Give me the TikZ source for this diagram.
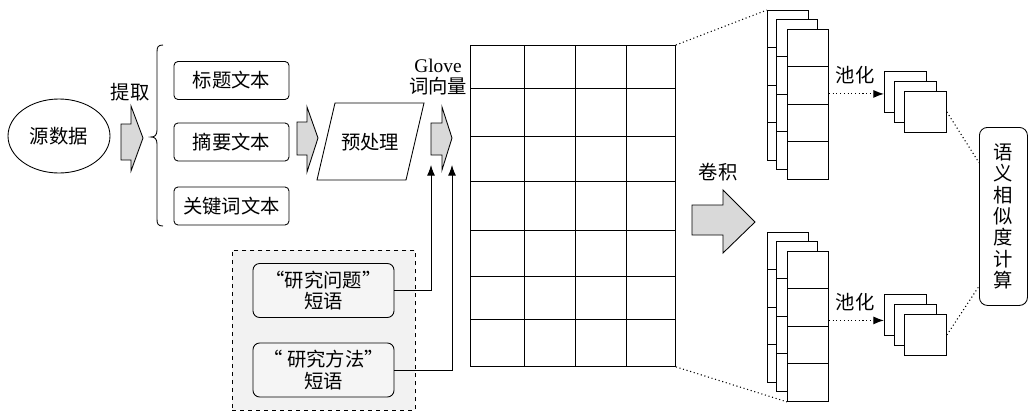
\documentclass[tikz,border=0pt]{standalone}
\usepackage{fontspec}
\setmainfont{Liberation Serif}
\newfontfamily\cjk{Noto Sans CJK SC}
\usetikzlibrary{arrows.meta,shapes.geometric,calc}
\begin{document}
\begin{tikzpicture}[x=0.75pt,y=-0.75pt,line width=0.65pt,
  txt/.style={font=\cjk\fontsize{14.5}{16}\selectfont,inner sep=0pt,align=center},
  tbox/.style={txt,draw,rounded corners=3pt,minimum width=115*0.75pt,minimum height=38*0.75pt},
  qbox/.style={txt,draw,rounded corners=5pt,fill=gray!8,minimum width=141*0.75pt,minimum height=54*0.75pt},
  blockarrow/.style={draw,fill=gray!30,line join=miter},
  fm/.style={draw,fill=white,inner sep=0pt,minimum width=41*0.75pt,minimum height=150*0.75pt,anchor=north west},
  pool/.style={draw,fill=white,inner sep=0pt,minimum width=42*0.75pt,minimum height=41*0.75pt,anchor=north west},
  dotline/.style={dotted,line width=0.8pt},
  tip/.style={-{Latex[length=8pt,width=6pt]}}]
\useasboundingbox (0,0) rectangle (1029,411);

% source
\node[txt,draw,ellipse,minimum width=102*0.75pt,minimum height=74*0.75pt] (src) at (59,136) {源数据};
\node[txt] (ext) at (130,92) {提取};
\draw[blockarrow] (121,124) -- (131,124) -- (131,106) -- (143,138) -- (131,171) -- (131,160) -- (121,160) -- cycle;

% brace
\draw (163,45) .. controls (158,45) and (157,47) .. (157,52) -- (157,130)
  .. controls (157,135) and (155,137) .. (151,137)
  .. controls (155,137) and (157,139) .. (157,144) -- (157,219)
  .. controls (157,224) and (158,226) .. (163,226);

\node[tbox] (b1) at (231.5,80.5) {标题文本};
\node[tbox] (b2) at (231.5,142) {摘要文本};
\node[tbox] (b3) at (231.5,206) {关键词文本};

\draw[blockarrow] (297,122) -- (307,122) -- (307,107) -- (318,138) -- (307,172) -- (307,155) -- (297,155) -- cycle;

% preprocessing
\draw (335,103) -- (424,103) -- (406,180) -- (317,180) -- cycle;
\node[txt] (pre) at (370,142) {预处理};

\node[txt,font=\fontsize{14.5}{16}\selectfont] (glove) at (438,77) {Glove\\{\cjk 词向量}};
\draw[blockarrow] (431,123) -- (442,123) -- (442,107) -- (452,138) -- (442,170) -- (442,155) -- (431,155) -- cycle;

% phrase group
\node[draw,dashed,fill=gray!10,inner sep=0pt,minimum width=183*0.75pt,minimum height=160*0.75pt,anchor=north west] (grp) at (232,250) {};
\node[qbox] (q1) at (323.5,290.5) {“研究问题”\\短语};
\node[qbox] (q2) at (323.5,370) {“ 研究方法”\\短语};
\coordinate (t1) at (431,165);
\coordinate (t2) at (452,165);
\draw[tip] (q1.east) -| (t1);
\draw[tip] (q2.east) -| (t2);

% grid
\node[draw,inner sep=0pt,minimum width=205*0.75pt,minimum height=321*0.75pt,anchor=north west] (grid) at (470,45) {};
\foreach \x in {524,575,626} \draw (\x,45) -- (\x,366);
\foreach \y in {88,136,181,230,276,319} \draw (470,\y) -- (675,\y);

% convolution
\node[txt] (conv) at (718,172) {卷积};
\draw[blockarrow] (692,205) -- (723,205) -- (723,190) -- (755,222) -- (723,253) -- (723,235) -- (692,235) -- cycle;

% feature maps upper
\foreach \n/\x/\y in {1/767/10,2/776/19,3/787/29} {
  \node[fm] (u\n) at (\x,\y) {};
  \foreach \k in {1,2,3} \draw (\x,\y+37.5*\k) -- (\x+41,\y+37.5*\k);
}
% feature maps lower
\foreach \n/\x/\y in {1/767/232,2/776/241,3/787/251} {
  \node[fm] (l\n) at (\x,\y) {};
  \foreach \k in {1,2,3} \draw (\x,\y+37.5*\k) -- (\x+41,\y+37.5*\k);
}
\draw[dotline] (grid.north east) -- (u1.north west);
\draw[dotline] (grid.south east) -- (l3.south west);

% pooling
\node[txt] (p1lab) at (855,75) {池化};
\node[txt] (p2lab) at (855,302) {池化};
\foreach \n/\x/\y in {1/884/71,2/894/81,3/904/91} \node[pool] (pu\n) at (\x,\y) {};
\foreach \n/\x/\y in {1/884/294,2/894/304,3/904/314} \node[pool] (pl\n) at (\x,\y) {};
\coordinate (au) at ($(pu1.west)+(0,2)$);
\coordinate (al) at ($(pl1.west)+(0,5.5)$);
\draw[dotline,tip] (u3.east |- au) -- (au);
\draw[dotline,tip] (l3.east |- al) -- (al);

% similarity
\node[txt,draw,rounded corners=6pt,inner sep=0pt,minimum width=48*0.75pt,minimum height=178*0.75pt,anchor=north west] (sim) at (979,127) {语\\义\\相\\似\\度\\计\\算};
\draw[dotline] (pu3.east) -- ($(sim.north west)!0.2!(sim.south west)$);
\draw[dotline] (pl3.east) -- ($(sim.north west)!0.89!(sim.south west)$);
\end{tikzpicture}
\end{document}
